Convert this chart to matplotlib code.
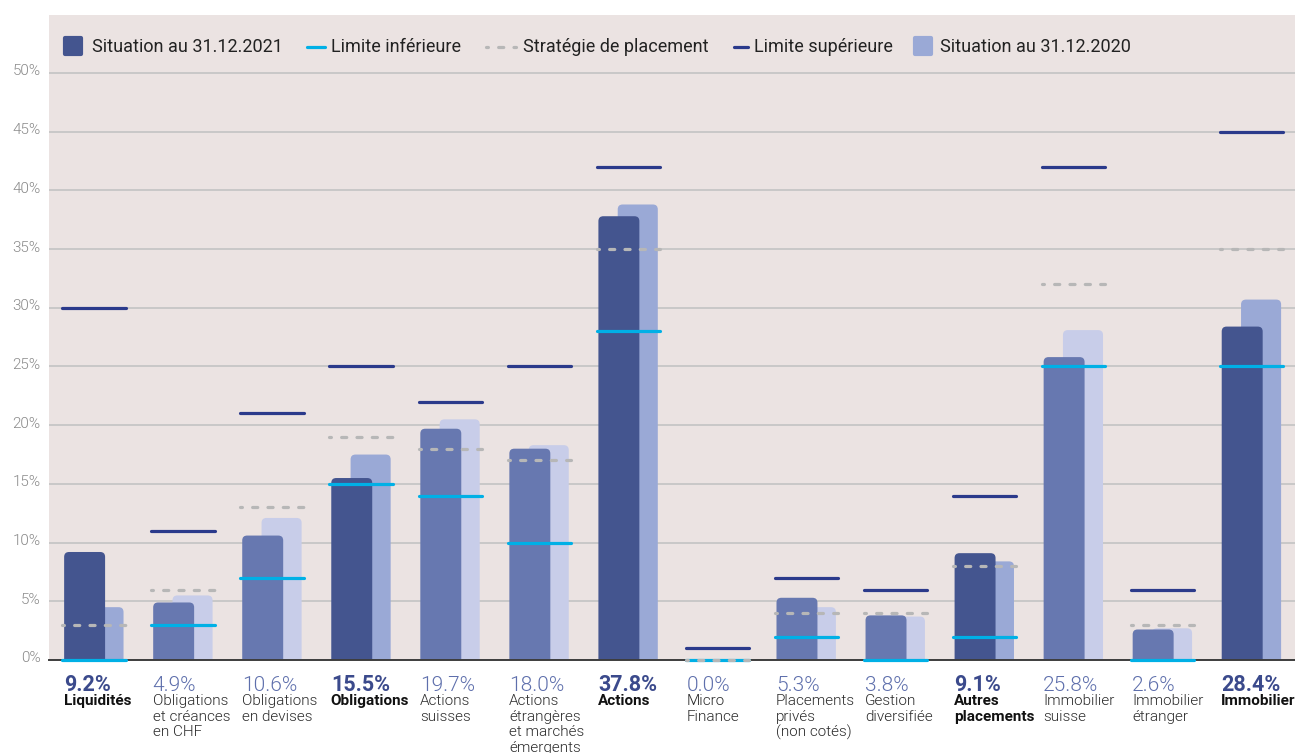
import numpy as np
import matplotlib
matplotlib.use("Agg")
import matplotlib.pyplot as plt
import matplotlib.transforms as mtransforms
from matplotlib.patches import FancyBboxPatch
from matplotlib.lines import Line2D
from matplotlib.markers import MarkerStyle

plt.rcParams['font.family'] = ['Roboto', 'DejaVu Sans']

# data (% of total assets)
categories = ["Liquidités", "Obligations\net créances\nen CHF", "Obligations\nen devises",
              "Obligations", "Actions\nsuisses", "Actions\nétrangères\net marchés\némergents",
              "Actions", "Micro\nFinance", "Placements\nprivés\n(non cotés)", "Gestion\ndiversifiée",
              "Autres\nplacements", "Immobilier\nsuisse", "Immobilier\nétranger", "Immobilier"]
is_main = [True, False, False, True, False, False, True, False, False, False, True, False, False, True]
s2021 = [9.2, 4.9, 10.6, 15.5, 19.7, 18.0, 37.8, 0.0, 5.3, 3.8, 9.1, 25.8, 2.6, 28.4]
s2020 = [4.5, 5.5, 12.1, 17.5, 20.5, 18.3, 38.8, 0.0, 4.5, 3.7, 8.4, 28.1, 2.7, 30.7]
lower = [0, 3, 7, 15, 14, 10, 28, 0, 2, 0, 2, 25, 0, 25]
strategy = [3, 6, 13, 19, 18, 17, 35, 0, 4, 4, 8, 32, 3, 35]
upper = [30, 11, 21, 25, 22, 25, 42, 1, 7, 6, 14, 42, 6, 45]
yticks = [0, 5, 10, 15, 20, 25, 30, 35, 40, 45, 50]

legend_labels = ["Situation au 31.12.2021", "Limite inférieure", "Stratégie de placement",
                 "Limite supérieure", "Situation au 31.12.2020"]

# colours
BG = "#ebe3e2"
MAIN21, MAIN20 = "#44558f", "#9aa9d6"
SUB21, SUB20 = "#6778b0", "#c8cde9"
CYAN, NAVY, DASH = "#00b0e6", "#2b3a8b", "#b7b7b7"
LIGHT = 300  # Roboto Light
DASHES = (1.0, (1.6, 3.2))

W, H = 1295, 753
fig = plt.figure(figsize=(W / 100, H / 100), dpi=100)
fig.patch.set_facecolor("white")

def fx(px):
    return px / W

def fy(py):
    return 1 - py / H

ax = fig.add_axes([fx(49), fy(660), fx(1295 - 49), (660 - 15) / H])
ax.set_facecolor(BG)
ax.set_xlim(-0.505, 13.488)
ax.set_ylim(0, 54.94)

x = np.arange(len(categories))
px_x = 89.04   # pixels per x unit
px_y = 11.74   # pixels per y unit
aspect = px_x / px_y


def rounded_bars(xs, vals, width, colors, z):
    bars = ax.bar(xs, vals, width, color=colors, zorder=z)
    for b, c in zip(bars, colors):
        bx, bw, bh = b.get_x(), b.get_width(), b.get_height()
        b.remove()
        if bh <= 0:
            continue
        p = FancyBboxPatch((bx, -1), bw, bh + 1,
                           boxstyle="round,pad=0,rounding_size=0.055",
                           mutation_aspect=aspect, fc=c, ec="none", zorder=z)
        ax.add_patch(p)


col21 = [MAIN21 if m else SUB21 for m in is_main]
col20 = [MAIN20 if m else SUB20 for m in is_main]
rounded_bars(x + 0.107, s2020, 0.45, col20, 2)
rounded_bars(x - 0.105, s2021, 0.46, col21, 3)

half = 0.355
lw = 2.3
lc = ax.hlines(lower, x - half, x + half, color=CYAN, lw=lw, zorder=4, clip_on=False)
lc.set_capstyle("round")
sc = ax.hlines(strategy, x - half, x + half, color=DASH, lw=lw, zorder=5, clip_on=False,
               linestyles=[DASHES])
sc.set_capstyle("round")
uc = ax.hlines(upper, x - half, x + half, color=NAVY, lw=lw, zorder=6, clip_on=False)
uc.set_capstyle("round")

# grid & axes
ax.set_yticks(yticks)
ax.set_yticklabels([f"{t}%" for t in yticks], fontsize=11, color="#8a8a8a", fontweight=LIGHT)
ax.yaxis.grid(True, color="#c6c6c6", lw=1.3)
ax.set_axisbelow(True)
ax.tick_params(axis="y", length=0, pad=6)
ax.set_xticks([])
for s in ["top", "right", "left"]:
    ax.spines[s].set_visible(False)
ax.spines["bottom"].set_color("#3d3d3d")
ax.spines["bottom"].set_linewidth(1.4)
ax.spines["bottom"].set_zorder(3.5)
shift = mtransforms.ScaledTranslation(0, 0.03, fig.dpi_scale_trans)
for lab in ax.get_yticklabels():
    lab.set_transform(lab.get_transform() + shift)

# category labels under the axis
trans = mtransforms.blended_transform_factory(ax.transData, fig.transFigure)
for i, cat in enumerate(categories):
    xl = x[i] - 0.34
    if is_main[i]:
        ax.text(xl, fy(691), f"{s2021[i]:.1f}%", transform=trans, fontsize=15.5,
                fontweight="bold", color="#3b4a8c", va="baseline", ha="left")
        ax.text(xl, fy(694), cat, transform=trans, fontsize=11, fontweight="bold",
                color="#111111", va="top", ha="left", linespacing=1.14)
    else:
        ax.text(xl, fy(691), f"{s2021[i]:.1f}%", transform=trans, fontsize=15,
                fontweight=LIGHT, color="#5e6fac", va="baseline", ha="left")
        ax.text(xl, fy(694), cat, transform=trans, fontsize=11, fontweight=LIGHT,
                color="#2a2a2a", va="top", ha="left", linespacing=1.14)

# legend drawn by hand
ly = 47
def square(cx, color):
    m = MarkerStyle("s", joinstyle="round")
    fig.add_artist(Line2D([fx(cx)], [fy(ly - 1)], marker=m, markersize=11, mfc=color,
                          mec=color, mew=3, ls="none", transform=fig.transFigure))

def seg(x0, x1, color, dashed=False):
    ln = Line2D([fx(x0), fx(x1)], [fy(ly), fy(ly)], color=color, lw=lw,
                solid_capstyle="round", dash_capstyle="round", transform=fig.transFigure)
    if dashed:
        ln.set_linestyle(DASHES)
    fig.add_artist(ln)

square(73, MAIN21)
seg(307, 325, CYAN)
seg(486, 516, DASH, dashed=True)
seg(734, 748, NAVY)
square(923, MAIN20)
for xt, txt in zip([92, 331, 523, 754, 940], legend_labels):
    fig.text(fx(xt), fy(ly), txt, fontsize=13, color="#222222", va="center", ha="left")

fig.savefig("out.png", dpi=100, facecolor=fig.get_facecolor())
